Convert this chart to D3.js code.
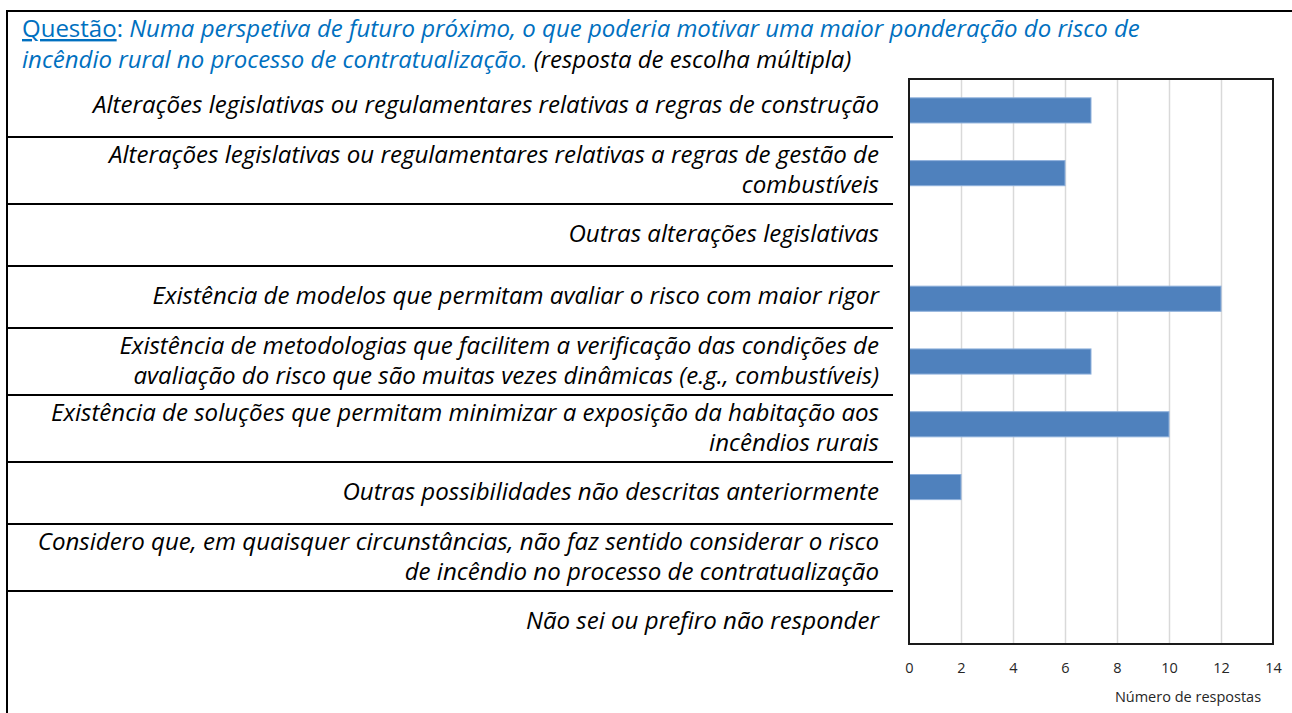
<!DOCTYPE html>
<html>
<head>
<meta charset="utf-8">
<script src="https://cdn.jsdelivr.net/npm/d3@7"></script>
<style>
  html, body { margin: 0; padding: 0; background: #fff; }
  svg { display: block; }
  text { font-family: "Open Sans", "Noto Sans", sans-serif; }
</style>
</head>
<body>
<svg id="chart" width="1292" height="713"></svg>
<script>
// Survey answers (multiple choice) — one entry per option, in display order
const categories = [
  "Alterações legislativas ou regulamentares relativas a regras de construção",
  "Alterações legislativas ou regulamentares relativas a regras de gestão de\ncombustíveis",
  "Outras alterações legislativas",
  "Existência de modelos que permitam avaliar o risco com maior rigor",
  "Existência de metodologias que facilitem a verificação das condições de\navaliação do risco que são muitas vezes dinâmicas (e.g., combustíveis)",
  "Existência de soluções que permitam minimizar a exposição da habitação aos\nincêndios rurais",
  "Outras possibilidades não descritas anteriormente",
  "Considero que, em quaisquer circunstâncias, não faz sentido considerar o risco\nde incêndio no processo de contratualização",
  "Não sei ou prefiro não responder"
];
const responses = [7, 6, 0, 12, 7, 10, 2, 0, 0];
const xTicks = [0, 2, 4, 6, 8, 10, 12, 14];
const axisTitle = "Número de respostas";
const questionLabel = "Questão";
const questionLine1 = "Numa perspetiva de futuro próximo, o que poderia motivar uma maior ponderação do risco de";
const questionLine2 = "incêndio rural no processo de contratualização.";
const questionNote = " (resposta de escolha múltipla)";

const svg = d3.select("#chart");
const BLUE = "#0070c0";

// ---- outer frame (top and left rules) ----
svg.append("line").attr("x1", 7).attr("x2", 1292).attr("y1", 11).attr("y2", 11)
  .attr("stroke", "#000").attr("stroke-width", 2);
svg.append("line").attr("x1", 7).attr("x2", 7).attr("y1", 10).attr("y2", 713)
  .attr("stroke", "#000").attr("stroke-width", 2);

// ---- question heading ----
const baseSize = 20;
const title = svg.append("g");
const t1 = title.append("text").attr("x", 22).attr("y", 37)
  .attr("font-size", baseSize).attr("fill", BLUE);
t1.append("tspan").attr("text-decoration", "underline").text(questionLabel);
t1.append("tspan").text(": ");
t1.append("tspan").attr("font-style", "italic").text(questionLine1);
const t2 = title.append("text").attr("x", 22).attr("y", 68)
  .attr("font-size", baseSize).attr("font-style", "italic");
t2.append("tspan").attr("fill", BLUE).text(questionLine2);
t2.append("tspan").attr("fill", "#000").text(questionNote);

// fit heading width to the frame
const w1 = t1.node().getComputedTextLength();
const titleSize = baseSize * 1118 / w1;
title.selectAll("text").attr("font-size", titleSize);

// ---- option labels (left table) ----
const labelRight = 879;
const tableTop = 75;
const lineGap = 30;
const rows = categories.map(c => c.split("\n"));
let yCursor = tableTop;
const rowBox = rows.map(lines => {
  const h = 62 + (lines.length - 1) * 5;
  const r = { top: yCursor, h: h, lines: lines };
  yCursor += h;
  return r;
});

const labelG = svg.append("g");
const labelTexts = labelG.selectAll("text.opt")
  .data(rowBox)
  .join("text")
  .attr("class", "opt")
  .attr("text-anchor", "end")
  .attr("font-style", "italic")
  .attr("font-size", baseSize)
  .attr("fill", "#000");

labelTexts.each(function(r) {
  const n = r.lines.length;
  const mid = r.top + r.h / 2;
  d3.select(this).selectAll("tspan")
    .data(r.lines)
    .join("tspan")
    .attr("x", labelRight)
    .attr("y", (d, i) => mid + (i - (n - 1) / 2) * lineGap + 7)
    .text(d => d);
});

// fit the widest label line to the table column
let widest = 0;
labelG.selectAll("tspan").each(function() {
  widest = Math.max(widest, this.getComputedTextLength());
});
const labelSize = baseSize * 842 / widest;
labelTexts.attr("font-size", labelSize);

// separators between rows
svg.append("g").selectAll("line")
  .data(rowBox.slice(1))
  .join("line")
  .attr("x1", 8).attr("x2", 893)
  .attr("y1", d => d.top).attr("y2", d => d.top)
  .attr("stroke", "#000").attr("stroke-width", 2);

// ---- bar chart ----
const plot = { left: 909, right: 1273, top: 79, bottom: 644 };
const x = d3.scaleLinear().domain([0, 14]).range([plot.left, plot.right]);
const y = d3.scaleBand().domain(d3.range(categories.length))
  .range([plot.top, plot.bottom]).paddingInner(0.6).paddingOuter(0.3);

// vertical gridlines
svg.append("g")
  .attr("transform", `translate(0,${plot.bottom})`)
  .call(d3.axisBottom(x).tickValues(xTicks.slice(1, -1))
    .tickSize(-(plot.bottom - plot.top)).tickFormat(""))
  .call(g => g.select(".domain").remove())
  .call(g => g.selectAll(".tick line").attr("stroke", "#d9d9d9").attr("stroke-width", 1.5));

// bars
svg.append("g").selectAll("rect")
  .data(responses)
  .join("rect")
  .attr("x", x(0))
  .attr("y", (d, i) => y(i))
  .attr("width", d => x(d) - x(0))
  .attr("height", y.bandwidth())
  .attr("fill", "#4f81bd")
  .attr("stroke", d => d > 0 ? "#8eb0dc" : "none")
  .attr("stroke-width", 1);

// plot frame
svg.append("rect")
  .attr("x", plot.left).attr("y", plot.top)
  .attr("width", plot.right - plot.left).attr("height", plot.bottom - plot.top)
  .attr("fill", "none").attr("stroke", "#1a1a1a").attr("stroke-width", 2);

// tick labels
svg.append("g")
  .attr("transform", `translate(0,${plot.bottom})`)
  .call(d3.axisBottom(x).tickValues(xTicks).tickSize(0).tickPadding(19).tickFormat(d3.format("d")))
  .call(g => g.select(".domain").remove())
  .call(g => g.selectAll("text")
    .attr("font-family", "'Open Sans', sans-serif")
    .attr("font-size", 14.5).attr("fill", "#262626"));

// axis title
svg.append("text")
  .attr("x", 1188).attr("y", 702)
  .attr("text-anchor", "middle")
  .attr("font-size", 14.5)
  .attr("fill", "#262626")
  .text(axisTitle);
</script>
</body>
</html>
